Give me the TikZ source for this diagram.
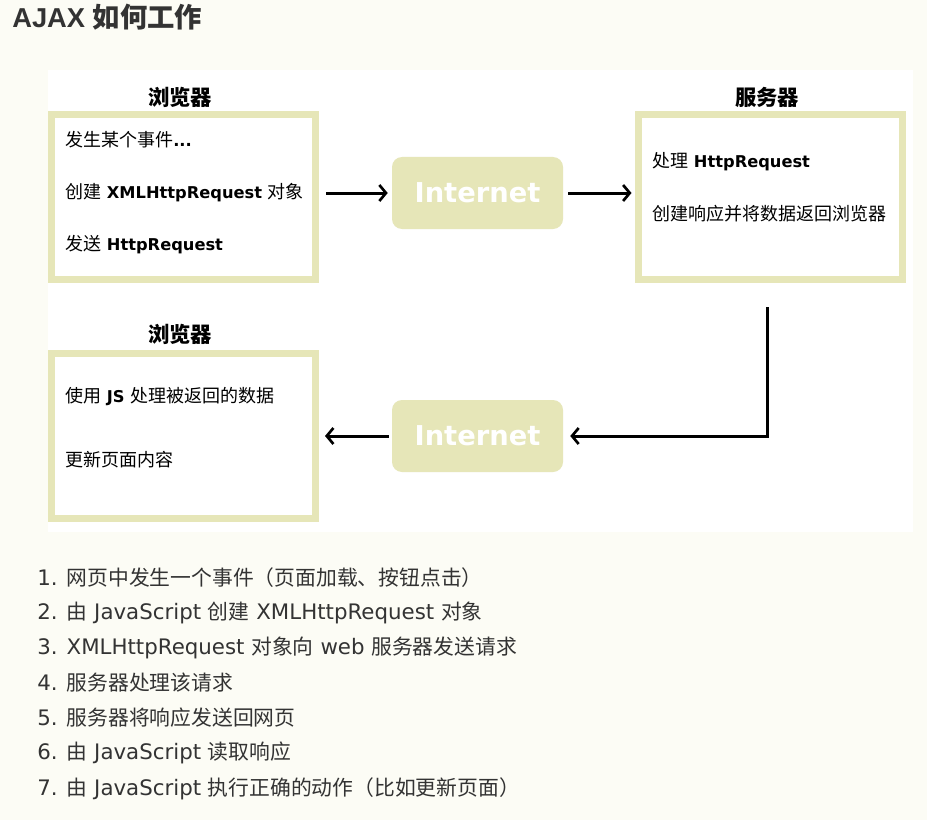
\documentclass[tikz,border=0pt]{standalone}
\usepackage{fontspec}
\setmainfont{DejaVu Sans}
\newfontfamily\titlefont{Liberation Sans}
\newfontfamily\cjk{Noto Sans CJK SC}
\usetikzlibrary{arrows.meta,positioning}
\definecolor{khaki}{RGB}{230,230,184}
\definecolor{pagebg}{RGB}{252,252,245}
\definecolor{darktext}{RGB}{51,51,51}
\tikzset{
    panel/.style={draw=khaki,line width=5.25pt,minimum width=198pt,minimum height=123.75pt,inner sep=0pt},
    net/.style={fill=khaki,rounded corners=7.5pt,minimum width=128.25pt,minimum height=54pt,inner sep=0pt,text=white,font=\bfseries\fontsize{20.5}{24}\selectfont},
    head/.style={inner sep=0pt,font=\cjk\bfseries\fontsize{16}{18}\selectfont},
    boxtext/.style={anchor=west,inner sep=0pt,font=\bfseries\fontsize{12.2}{15}\selectfont},
    listtext/.style={anchor=west,inner sep=0pt,text=darktext,font=\fontsize{16}{19}\selectfont},
    flow/.style={line width=2.25pt,-{Straight Barb[length=5pt,width=12pt,line width=2pt]}}
}
\newcommand{\zh}[1]{{\cjk\mdseries\fontsize{13.5}{16}\selectfont #1}}
\newcommand{\zl}[1]{{\cjk\fontsize{15.6}{17}\selectfont #1}}
\begin{document}
\begin{tikzpicture}[x=0.75pt,y=-0.75pt]
\useasboundingbox (0,0) rectangle (927,820);
\fill[pagebg] (0,0) rectangle (927,820);
\fill[white] (48,70) rectangle (913,532);
% title
\node[anchor=west,inner sep=0pt,text=darktext] (title) at (12,17)
    {\titlefont\bfseries\fontsize{20.5}{24}\selectfont AJAX {\cjk 如何工作}};
% browser, request
\node[panel] (box1) at (183.5,197) {};
\node[head] (hd1) at (180,97) {浏览器};
\node[boxtext] (t11) at (65,140) {\zh{发生某个事件}...};
\node[boxtext] (t12) at (65,193) {\zh{创建} XMLHttpRequest \zh{对象}};
\node[boxtext] (t13) at (65,245) {\zh{发送} HttpRequest};
\node[net] (inet1) at (477.5,193) {Internet};
% server
\node[panel] (box2) at (770,197) {};
\node[head] (hd2) at (767,97) {服务器};
\node[boxtext] (t21) at (652,162) {\zh{处理} HttpRequest};
\node[boxtext] (t22) at (652,214) {\zh{创建响应并将数据返回浏览器}};
% browser, response
\node[net] (inet2) at (477.5,436) {Internet};
\node[panel] (box3) at (183.5,436) {};
\node[head] (hd3) at (180,334) {浏览器};
\node[boxtext] (t31) at (65,397) {\zh{使用} JS \zh{处理被返回的数据}};
\node[boxtext] (t32) at (65,460) {\zh{更新页面内容}};
% arrows
\draw[flow,shorten <=5.25pt,shorten >=3pt] (box1.east |- inet1.west) -- (inet1.west);
\draw[flow,shorten <=3.75pt,shorten >=2.25pt] (inet1.east) -- (inet1.east -| box2.west);
\draw[flow,shorten >=5.25pt] ([xshift=-2.25pt,yshift=-18pt]box2.south) |- (inet2.east);
\draw[flow,shorten <=2.25pt,shorten >=4.5pt] (inet2.west) -- (inet2.west -| box3.east);
% steps
\node[listtext] (s1) at (37,578) {1. \zl{网页中发生一个事件（页面加载、按钮点击）}};
\node[listtext] (s2) at (37,613) {2. \zl{由} JavaScript \zl{创建} XMLHttpRequest \zl{对象}};
\node[listtext] (s3) at (37,648) {3. XMLHttpRequest \zl{对象向} web \zl{服务器发送请求}};
\node[listtext] (s4) at (37,683) {4. \zl{服务器处理该请求}};
\node[listtext] (s5) at (37,718) {5. \zl{服务器将响应发送回网页}};
\node[listtext] (s6) at (37,753) {6. \zl{由} JavaScript \zl{读取响应}};
\node[listtext] (s7) at (37,789) {7. \zl{由} JavaScript \zl{执行正确的动作（比如更新页面）}};
\end{tikzpicture}
\end{document}
